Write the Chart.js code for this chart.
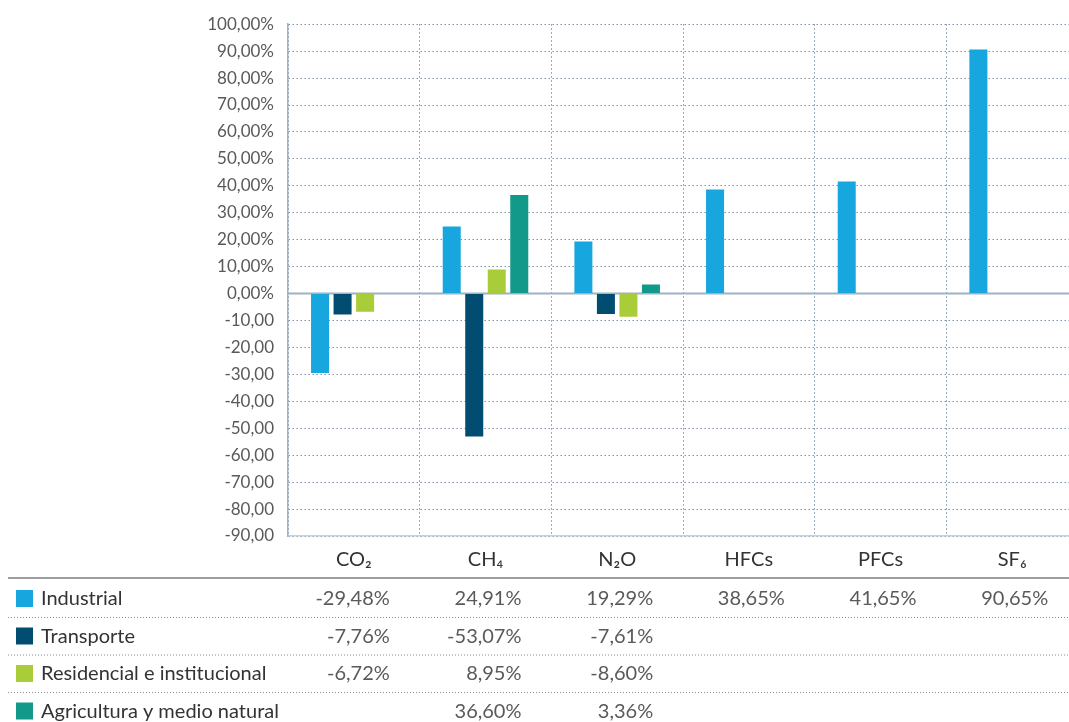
<!DOCTYPE html>
<html>
<head>
<meta charset="utf-8">
<script src="https://cdn.jsdelivr.net/npm/chart.js@4"></script>
<style>
  html, body { margin: 0; padding: 0; background: #fff; overflow: hidden; }
</style>
</head>
<body>
<canvas id="myChart" width="1080" height="722"></canvas>
<script>
// gases (columns) and sectors (series)
const gases = ['CO₂', 'CH₄', 'N₂O', 'HFCs', 'PFCs', 'SF₆'];

const industrial  = [-29.48, 24.91, 19.29, 38.65, 41.65, 90.65];
const transporte  = [-7.76, -53.07, -7.61, null, null, null];
const residencial = [-6.72, 8.95, -8.60, null, null, null];
const agricultura = [null, 36.60, 3.36, null, null, null];

const sectorNames = ['Industrial', 'Transporte', 'Residencial e institucional', 'Agricultura y medio natural'];
const sectorColors = ['#17a6de', '#004d71', '#a8cd38', '#13998a'];

const fontFamily = 'Lato, "Noto Sans", sans-serif';
const gridColor = '#7a94aa';

function fmt(v) {
    return v.toFixed(2).replace('.', ',');
}

// solid line at 0, grid lines are dotted
const zeroLine = {
    id: 'zeroLine',
    beforeDatasetsDraw(chart) {
        const ctx = chart.ctx;
        const y = chart.scales.y.getPixelForValue(0);
        ctx.save();
        ctx.strokeStyle = '#9fb2c2';
        ctx.lineWidth = 2;
        ctx.beginPath();
        ctx.moveTo(chart.chartArea.left, y);
        ctx.lineTo(chart.chartArea.right, y);
        ctx.stroke();
        ctx.restore();
    }
};

// data table under the x axis, used as legend too
const tablePlugin = {
    id: 'dataTable',
    afterDraw(chart) {
        const ctx = chart.ctx;
        const x = chart.scales.x;
        const top = chart.chartArea.bottom + 42;
        const rowH = 37.5;

        ctx.save();
        ctx.strokeStyle = '#7d7d7d';
        ctx.lineWidth = 1.5;
        ctx.beginPath();
        ctx.moveTo(8, top);
        ctx.lineTo(chart.width, top);
        ctx.stroke();

        chart.data.datasets.forEach((ds, r) => {
            const cy = top + 21 + r * rowH;
            ctx.fillStyle = ds.backgroundColor;
            ctx.fillRect(16, cy - 9, 17, 17);

            ctx.font = '20px ' + fontFamily;
            ctx.fillStyle = '#333';
            ctx.textAlign = 'left';
            ctx.textBaseline = 'middle';
            ctx.fillText(ds.label, 41, cy);

            ctx.fillStyle = '#5a5a5a';
            ctx.textAlign = 'right';
            ds.data.forEach((v, i) => {
                if (v === null) return;
                ctx.fillText(fmt(v) + '%', x.getPixelForValue(i) + 36, cy);
            });

            if (r < chart.data.datasets.length - 1) {
                const ly = cy + 18.5;
                ctx.strokeStyle = '#8c8c8c';
                ctx.lineWidth = 1;
                ctx.setLineDash([1, 2]);
                ctx.beginPath();
                ctx.moveTo(8, ly);
                ctx.lineTo(chart.width, ly);
                ctx.stroke();
                ctx.setLineDash([]);
            }
        });
        ctx.restore();
    }
};

const seriesValues = [industrial, transporte, residencial, agricultura];

const data = {
    labels: gases,
    datasets: seriesValues.map((vals, i) => ({
        label: sectorNames[i],
        data: vals,
        backgroundColor: sectorColors[i],
        categoryPercentage: 0.684,
        barPercentage: 0.8
    }))
};

const config = {
    type: 'bar',
    data,
    options: {
        responsive: false,
        animation: false,
        layout: { padding: { top: 21, right: 2, left: 0, bottom: 0 } },
        plugins: {
            legend: { display: false },
            tooltip: { enabled: false }
        },
        scales: {
            x: {
                grid: {
                    color: gridColor,
                    drawTicks: false,
                    offset: true
                },
                border: { color: '#c3d1dc', width: 1.5, dash: [1.5, 2.5] },
                ticks: {
                    padding: 12,
                    color: '#333',
                    font: { family: fontFamily, size: 20 }
                },
                afterFit(scale) { scale.height = 186; }
            },
            y: {
                min: -90,
                max: 100,
                ticks: {
                    stepSize: 10,
                    padding: 14,
                    color: '#595959',
                    font: { family: fontFamily, size: 17 },
                    callback: v => v >= 0 ? fmt(v) + '%' : fmt(v)
                },
                grid: {
                    color: c => c.tick && c.tick.value === 0 ? 'rgba(0,0,0,0)' : gridColor,
                    drawTicks: false
                },
                border: { color: '#9fb2c2', width: 1.5, dash: [1.5, 2.5] },
                afterFit(scale) { scale.width = 288; }
            }
        }
    },
    plugins: [zeroLine, tablePlugin]
};

new Chart(document.getElementById('myChart'), config);
</script>
</body>
</html>
